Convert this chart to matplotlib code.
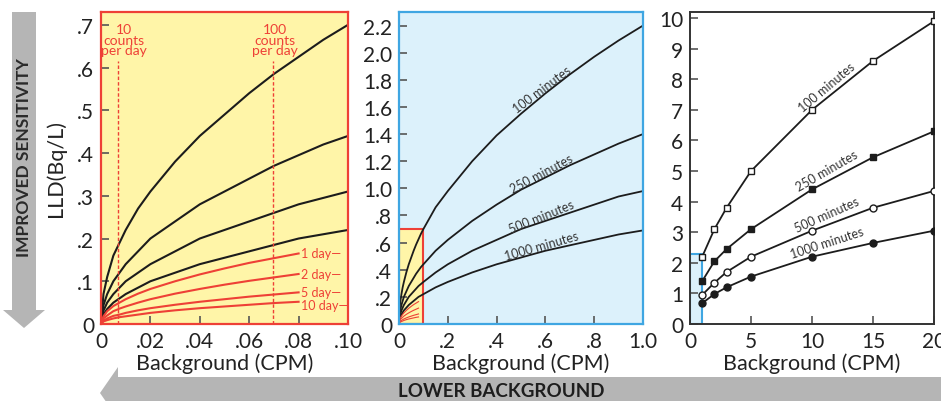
import matplotlib
matplotlib.use("Agg")
import matplotlib.pyplot as plt
from matplotlib.patches import Polygon, Rectangle

plt.rcParams['font.family'] = ['Lato', 'DejaVu Sans']

# ---- data ----
curve_names = ["100 minutes", "250 minutes", "500 minutes", "1000 minutes"]

# left panel: 0 - 0.1 CPM
x_low = [0, 0.001, 0.0025, 0.005, 0.0075, 0.01, 0.015, 0.02, 0.03, 0.04, 0.05,
         0.06, 0.07, 0.08, 0.09, 0.10]
lld_low = [
    [0, 0.07, 0.11, 0.16, 0.19, 0.22, 0.27, 0.31, 0.38, 0.44, 0.49, 0.54, 0.585,
     0.625, 0.665, 0.70],
    [0, 0.044, 0.07, 0.10, 0.12, 0.14, 0.17, 0.20, 0.24, 0.28, 0.31, 0.34, 0.37,
     0.395, 0.42, 0.44],
    [0, 0.031, 0.05, 0.07, 0.085, 0.10, 0.12, 0.14, 0.17, 0.20, 0.22, 0.24, 0.26,
     0.28, 0.295, 0.31],
    [0, 0.022, 0.035, 0.05, 0.06, 0.07, 0.085, 0.10, 0.12, 0.14, 0.155, 0.17, 0.185,
     0.20, 0.21, 0.22],
]

day_names = ["1 day", "2 day", "5 day", "10 day"]
x_days = [0, 0.001, 0.0025, 0.005, 0.0075, 0.01, 0.015, 0.02, 0.03, 0.04, 0.05,
          0.06, 0.07, 0.08]
lld_days = [
    [0, 0.018, 0.03, 0.042, 0.05, 0.058, 0.071, 0.082, 0.10, 0.116, 0.13, 0.143,
     0.154, 0.165],
    [0, 0.013, 0.02, 0.03, 0.036, 0.041, 0.05, 0.058, 0.071, 0.082, 0.092, 0.101,
     0.109, 0.117],
    [0, 0.008, 0.013, 0.019, 0.022, 0.026, 0.032, 0.037, 0.045, 0.052, 0.058, 0.064,
     0.069, 0.074],
    [0, 0.006, 0.009, 0.013, 0.016, 0.018, 0.022, 0.026, 0.032, 0.037, 0.041, 0.045,
     0.049, 0.052],
]
day_label_dy = [0, 0, 0.5, -2.5]   # points, to keep the small labels apart

counts_per_day = [10, 100]
minutes_per_day = 1440

# middle panel: 0.1 - 1.0 CPM (joined onto the low-range data)
x_mid = [0.15, 0.2, 0.3, 0.4, 0.5, 0.6, 0.7, 0.8, 0.9, 1.0]
lld_mid = [
    [0.86, 0.98, 1.20, 1.39, 1.55, 1.70, 1.84, 1.97, 2.09, 2.20],
    [0.54, 0.62, 0.76, 0.88, 0.99, 1.08, 1.17, 1.25, 1.33, 1.40],
    [0.38, 0.44, 0.54, 0.62, 0.70, 0.76, 0.82, 0.88, 0.94, 0.98],
    [0.27, 0.31, 0.38, 0.44, 0.49, 0.54, 0.58, 0.62, 0.66, 0.69],
]
mid_label_x = 0.585
mid_label_y = [1.69, 1.07, 0.755, 0.535]
mid_label_rot = [37, 28, 22, 16]

# right panel: measured points 1 - 20 CPM
x_high = [1, 2, 3, 5, 10, 15, 20]
lld_high = [
    [2.2, 3.1, 3.8, 5.0, 7.0, 8.6, 9.9],
    [1.4, 2.05, 2.45, 3.1, 4.4, 5.45, 6.3],
    [0.95, 1.35, 1.7, 2.2, 3.05, 3.8, 4.35],
    [0.68, 0.98, 1.2, 1.55, 2.2, 2.65, 3.05],
]
high_label_x = 11.2
high_label_y = [7.38, 4.65, 3.23, 2.31]
high_label_rot = [40, 30, 24, 18]

# ---- styling ----
BLACK = "#1c1c1c"
RED = "#ee4036"
YELLOW = "#fff5a8"
LBLUE = "#dcf1fb"
BLUE = "#3fa6e2"
GRAY = "#b5b5b5"
TXT = "#222222"

W, H = 941, 402
fig = plt.figure(figsize=(W / 100, H / 100), dpi=100)


def px_box(x0, x1, y0, y1):
    return [x0 / W, 1 - y1 / H, (x1 - x0) / W, (y1 - y0) / H]


def style_axis(ax, edge, lw):
    for s in ax.spines.values():
        s.set_color(edge)
        s.set_linewidth(lw)
    ax.tick_params(direction="in", length=6, width=1.2, color="#555555",
                   labelsize=15, labelcolor=TXT, pad=5)
    ax.set_xlabel("Background (CPM)", fontsize=15.5, color=TXT, labelpad=1)


ax1 = fig.add_axes(px_box(101, 348, 13, 325))
ax2 = fig.add_axes(px_box(399, 643, 13, 325))
ax3 = fig.add_axes(px_box(690, 934, 13, 325))

# left panel
ax1.set_facecolor(YELLOW)
for vals in lld_low:
    ax1.plot(x_low, vals, color=BLACK, lw=1.5)
for name, vals, dy in zip(day_names, lld_days, day_label_dy):
    ax1.plot(x_days, vals, color=RED, lw=1.5)
    ax1.annotate(name + "\u2014", (x_days[-1], vals[-1]), xytext=(1.5, dy),
                 textcoords="offset points", color=RED, fontsize=9,
                 ha="left", va="center")
for c in counts_per_day:
    xc = c / minutes_per_day
    ax1.plot([xc, xc], [0, 0.615], color=RED, lw=1, ls=(0, (2.5, 1.5)))
    ax1.text(xc + 0.0025 if c == 10 else xc + 0.001, 0.665, f"{c}\ncounts\nper day",
             color=RED, fontsize=10, ha="center", va="center", linespacing=0.85)
ax1.set_xlim(0, 0.1)
ax1.set_ylim(0, 0.73)
ax1.set_xticks([0, 0.02, 0.04, 0.06, 0.08, 0.10])
ax1.set_xticklabels(["0", ".02", ".04", ".06", ".08", ".10"])
ax1.set_yticks([0, 0.1, 0.2, 0.3, 0.4, 0.5, 0.6, 0.7])
ax1.set_yticklabels(["0", ".1", ".2", ".3", ".4", ".5", ".6", ".7"])
style_axis(ax1, RED, 1.6)
ax1.set_ylabel("LLD(Bq/L)", fontsize=15.5, color=TXT, labelpad=8)

# middle panel
ax2.set_facecolor(LBLUE)
ax2.add_patch(Rectangle((0, 0), x_low[-1], lld_low[0][-1], facecolor=YELLOW,
                        edgecolor=RED, lw=1.5, zorder=1))
for low, mid in zip(lld_low, lld_mid):
    ax2.plot(x_low + x_mid, low + mid, color=BLACK, lw=1.3, zorder=2)
for vals in lld_days:
    ax2.plot(x_days, vals, color=RED, lw=0.8, zorder=2)
for name, ly, rot in zip(curve_names, mid_label_y, mid_label_rot):
    ax2.annotate(name, (mid_label_x, ly), xytext=(0, 4), textcoords="offset points",
                 ha="center", va="center", rotation=rot, fontsize=9, color="#333333")
ax2.set_xlim(0, 1.0)
ax2.set_ylim(0, 2.3)
ax2.set_xticks([0, 0.2, 0.4, 0.6, 0.8, 1.0])
ax2.set_xticklabels(["0", ".2", ".4", ".6", ".8", "1.0"])
ax2.set_yticks([0, 0.2, 0.4, 0.6, 0.8, 1.0, 1.2, 1.4, 1.6, 1.8, 2.0, 2.2])
ax2.set_yticklabels(["0", ".2", ".4", ".6", ".8", "1.0", "1.2", "1.4", "1.6",
                     "1.8", "2.0", "2.2"])
style_axis(ax2, BLUE, 1.6)

# right panel
ax3.set_facecolor("white")
ax3.add_patch(Rectangle((0, 0), x_mid[-1], 2.3, facecolor=LBLUE,
                        edgecolor=BLUE, lw=1.5, zorder=1))
markers = [("s", "white"), ("s", BLACK), ("o", "white"), ("o", BLACK)]
for vals, (m, fc) in zip(lld_high, markers):
    ax3.plot(x_high, vals, color=BLACK, lw=1.3, marker=m, markersize=5,
             markerfacecolor=fc, markeredgecolor=BLACK, markeredgewidth=1, zorder=3)
for name, ly, rot in zip(curve_names, high_label_y, high_label_rot):
    ax3.annotate(name, (high_label_x, ly), xytext=(0, 8), textcoords="offset points",
                 ha="center", va="center", rotation=rot, fontsize=9, color="#333333")
ax3.set_xlim(0, 20)
ax3.set_ylim(0, 10.2)
ax3.set_xticks([0, 5, 10, 15, 20])
ax3.set_yticks(range(0, 11))
style_axis(ax3, "#333333", 1.4)

# big arrows
down = [(12, 13), (36, 13), (36, 311), (45, 311), (24, 329), (3, 311), (12, 311)]
fig.add_artist(Polygon([(x / W, 1 - y / H) for x, y in down], closed=True,
                       facecolor=GRAY, edgecolor="none", transform=fig.transFigure))
fig.text(24 / W, 1 - 158 / H, "IMPROVED SENSITIVITY", rotation=90, ha="center",
         va="center", fontsize=12.5, fontweight="bold", color="#2a2a2a")

left = [(941, 378), (118, 378), (118, 368), (100, 394), (118, 420), (941, 420)]
fig.add_artist(Polygon([(x / W, 1 - y / H) for x, y in left], closed=True,
                       facecolor=GRAY, edgecolor="none", transform=fig.transFigure))
fig.text(501 / W, 1 - 392 / H, "LOWER BACKGROUND", ha="center", va="center",
         fontsize=13.5, fontweight="bold", color="#1e1e1e")

fig.savefig("out.png", dpi=100)
